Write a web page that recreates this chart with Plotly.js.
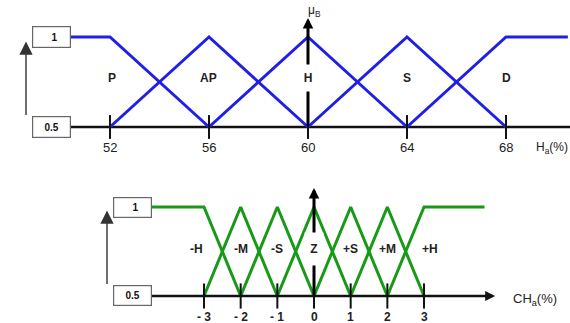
<!DOCTYPE html>
<html>
<head>
<meta charset="utf-8">
<script src="https://cdn.plot.ly/plotly-3.0.1.min.js"></script>
<style>html,body{margin:0;padding:0;background:#fff;}#chart{width:570px;height:323px;}</style>
</head>
<body>
<div id="chart"></div>
<script>
// ---- Data: top chart (H_a %) ----
const hTicks = [52, 56, 60, 64, 68];
const hTickText = ['52', '56', '60', '64', '68'];
const hSets = ['P', 'AP', 'H', 'S', 'D'];
const hSetX = [52.1, 56, 60, 64, 68];
const hUniverse = [49.6, 70.5];

// ---- Data: bottom chart (CH_a %) ----
const cTicks = [-3, -2, -1, 0, 1, 2, 3];
const cTickText = ['- 3', '- 2', '- 1', '0', '1', '2', '3'];
const cSets = ['-H', '-M', '-S', 'Z', '+S', '+M', '+H'];
const cSetX = [-3.2, -2, -1, 0, 1, 2, 3.15];
const cUniverse = [-5, 4.65];

// membership levels as labelled in the figure
const muLow = 0.5;
const muHigh = 1;
const muLabels = ['1', '0.5'];

const FONT = 'Liberation Sans, Arial, sans-serif';
const BLUE = '#1f1fe6';
const GREEN = '#189a18';

function mfTraces(ticks, universe, color, xa, ya) {
  const n = ticks.length;
  const out = [];
  for (let i = 0; i < n; i++) {
    let x, y;
    if (i === 0) { x = [universe[0], ticks[0], ticks[1]]; y = [muHigh, muHigh, muLow]; }
    else if (i === n - 1) { x = [ticks[n - 2], ticks[n - 1], universe[1]]; y = [muLow, muHigh, muHigh]; }
    else { x = [ticks[i - 1], ticks[i], ticks[i + 1]]; y = [muLow, muHigh, muLow]; }
    out.push({ x, y, xaxis: xa, yaxis: ya, mode: 'lines', type: 'scatter',
      line: { color, width: 3 }, hoverinfo: 'skip' });
  }
  return out;
}

const traces = [];
// baselines
traces.push({ x: [hUniverse[0], 70.6], y: [muLow, muLow], xaxis: 'x', yaxis: 'y', mode: 'lines',
  line: { color: '#111', width: 2.5 }, hoverinfo: 'skip' });
traces.push(...mfTraces(hTicks, hUniverse, BLUE, 'x', 'y'));
traces.push(...mfTraces(cTicks, cUniverse, GREEN, 'x2', 'y2'));
// tick marks
traces.push({ x: hTicks, y: hTicks.map(() => muLow), xaxis: 'x', yaxis: 'y', mode: 'markers',
  marker: { symbol: 'line-ns', size: 17, line: { color: '#111', width: 2 } }, hoverinfo: 'skip' });
traces.push({ x: cTicks, y: cTicks.map(() => muLow), xaxis: 'x2', yaxis: 'y2', mode: 'markers',
  marker: { symbol: 'line-ns', size: 18, line: { color: '#111', width: 2 } }, hoverinfo: 'skip' });

const ann = [];
// vertical axis arrows
ann.push({ xref: 'x', yref: 'y', x: 60, y: 1.106, axref: 'x', ayref: 'y', ax: 60, ay: muLow,
  showarrow: true, arrowhead: 2, arrowsize: 0.7, arrowwidth: 3, arrowcolor: '#000', text: '' });
ann.push({ xref: 'x2', yref: 'y2', x: 0, y: 1.107, axref: 'x2', ayref: 'y2', ax: 0, ay: muLow,
  showarrow: true, arrowhead: 2, arrowsize: 0.7, arrowwidth: 3, arrowcolor: '#000', text: '' });
// bottom horizontal arrow (baseline)
ann.push({ xref: 'x2', yref: 'y2', x: 4.94, y: muLow, axref: 'x2', ayref: 'y2', ax: cUniverse[0], ay: muLow,
  showarrow: true, arrowhead: 2, arrowsize: 0.8, arrowwidth: 2.5, arrowcolor: '#111', text: '' });
// small grey arrows between level boxes
ann.push({ xref: 'paper', yref: 'y', x: 26 / 570, y: 0.975, axref: 'pixel', ayref: 'pixel', ax: 0, ay: 75,
  showarrow: true, arrowhead: 2, arrowsize: 1.9, arrowwidth: 1.4, arrowcolor: '#333', text: '' });
ann.push({ xref: 'paper', yref: 'y2', x: 107 / 570, y: 0.98, axref: 'pixel', ayref: 'pixel', ax: 0, ay: 75,
  showarrow: true, arrowhead: 2, arrowsize: 1.9, arrowwidth: 1.4, arrowcolor: '#333', text: '' });

// level boxes
[muHigh, muLow].forEach((v, i) => {
  ann.push({ xref: 'paper', yref: 'y', x: 31.5 / 570, y: v, showarrow: false,
    text: i === 0 ? '&nbsp;&nbsp;' + muLabels[i] : muLabels[i], width: 35, height: 18,
    bgcolor: '#fff', bordercolor: '#666', borderwidth: 1.2,
    font: { family: FONT, size: 10, color: '#111', weight: 'bold' } });
  ann.push({ xref: 'paper', yref: 'y2', x: 112.5 / 570, y: v, showarrow: false,
    text: i === 0 ? '&nbsp;&nbsp;' + muLabels[i] : muLabels[i], width: 35, height: 17,
    bgcolor: '#fff', bordercolor: '#666', borderwidth: 1.2,
    font: { family: FONT, size: 10, color: '#111', weight: 'bold' } });
});

// set labels
hSets.forEach((s, i) => {
  ann.push({ xref: 'x', yref: 'y', x: hSetX[i], y: 0.772, showarrow: false, text: s,
    bgcolor: s === 'H' ? '#fff' : 'rgba(0,0,0,0)', height: s === 'H' ? 24 : undefined, width: s === 'H' ? 16 : undefined,
    font: { family: FONT, size: 12, color: '#222', weight: 'bold' } });
});
cSets.forEach((s, i) => {
  ann.push({ xref: 'x2', yref: 'y2', x: cSetX[i], y: 0.764, showarrow: false, text: s,
    bgcolor: s === 'Z' ? '#fff' : 'rgba(0,0,0,0)', height: s === 'Z' ? 30 : undefined, width: s === 'Z' ? 16 : undefined,
    font: { family: FONT, size: 12, color: '#222', weight: 'bold' } });
});

// tick labels
hTicks.forEach((t, i) => {
  ann.push({ xref: 'x', yref: 'y', x: t, y: muLow, yshift: -21, showarrow: false, text: hTickText[i],
    font: { family: FONT, size: 13, color: '#222' } });
});
cTicks.forEach((t, i) => {
  ann.push({ xref: 'x2', yref: 'y2', x: t, y: muLow, yshift: -21, showarrow: false, text: cTickText[i],
    font: { family: FONT, size: 12, color: '#222', weight: 'bold' } });
});

// axis titles
ann.push({ xref: 'paper', yref: 'y', x: 534 / 570, xanchor: 'left', y: muLow, yshift: -21, showarrow: false,
  text: 'H<sub>a</sub>(%)', font: { family: FONT, size: 12, color: '#222' } });
ann.push({ xref: 'paper', yref: 'y2', x: 511 / 570, xanchor: 'left', y: muLow, yshift: -4, showarrow: false,
  text: 'CH<sub>a</sub>(%)', font: { family: FONT, size: 13, color: '#222' } });
ann.push({ xref: 'paper', yref: 'y', x: 314 / 570, y: 1.144, showarrow: false,
  text: 'μ<sub>B</sub>', font: { family: FONT, size: 12, color: '#222' } });

const hidden = { visible: false, fixedrange: true };
const layout = {
  width: 570, height: 323,
  margin: { l: 0, r: 0, t: 0, b: 0 },
  paper_bgcolor: '#fff', plot_bgcolor: '#fff',
  showlegend: false,
  xaxis: Object.assign({ domain: [0, 1], range: [47.556, 70.586], anchor: 'y' }, hidden),
  yaxis: Object.assign({ domain: [0.4892, 1], range: [0.2889, 1.2056], anchor: 'x' }, hidden),
  xaxis2: Object.assign({ domain: [0, 1], range: [-8.563, 6.981], anchor: 'y2' }, hidden),
  yaxis2: Object.assign({ domain: [0, 0.4737], range: [0.3483, 1.2079], anchor: 'x2' }, hidden),
  annotations: ann
};

Plotly.newPlot('chart', traces, layout, { staticPlot: true, displayModeBar: false });
</script>
</body>
</html>
